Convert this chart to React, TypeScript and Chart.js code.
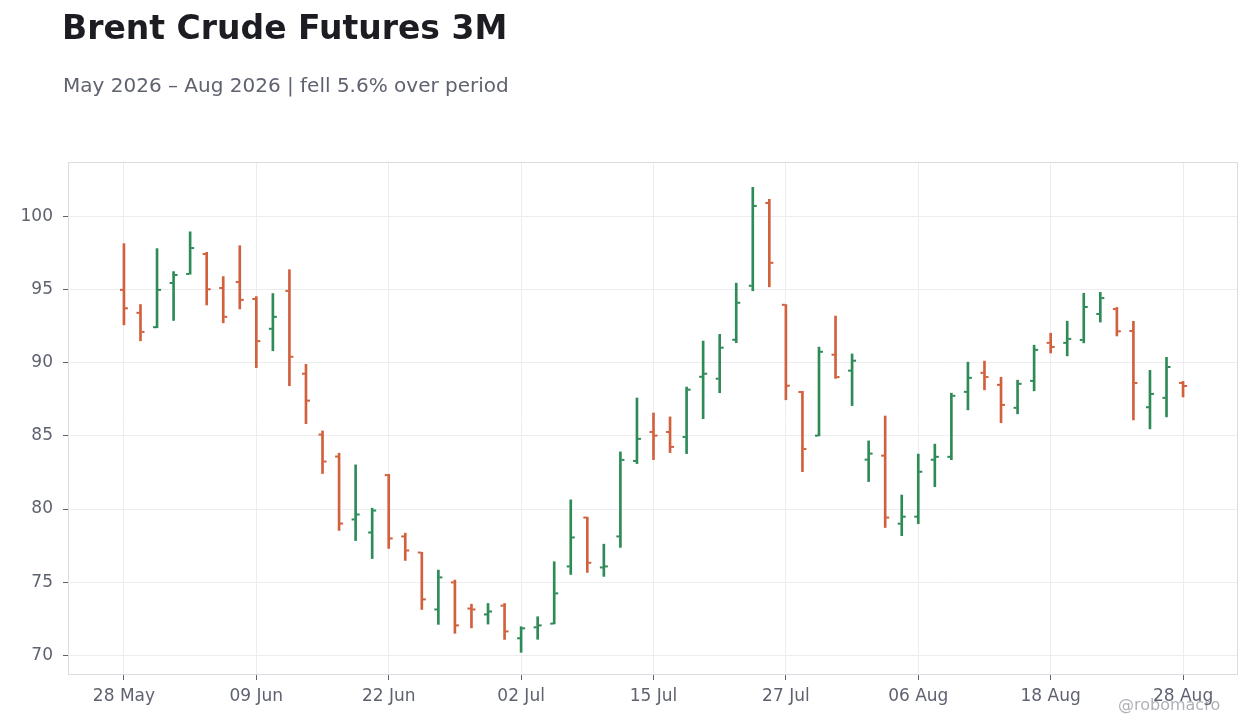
import { useEffect, useRef } from "react";
import { Chart, registerables } from "chart.js";

Chart.register(...registerables);

// trading days (US calendar, Juneteenth and 3 Jul closed)
const dates = [
  "2026-05-28", "2026-05-29",
  "2026-06-01", "2026-06-02", "2026-06-03", "2026-06-04", "2026-06-05",
  "2026-06-08", "2026-06-09", "2026-06-10", "2026-06-11", "2026-06-12",
  "2026-06-15", "2026-06-16", "2026-06-17", "2026-06-18",
  "2026-06-22", "2026-06-23", "2026-06-24", "2026-06-25", "2026-06-26",
  "2026-06-29", "2026-06-30", "2026-07-01", "2026-07-02",
  "2026-07-06", "2026-07-07", "2026-07-08", "2026-07-09", "2026-07-10",
  "2026-07-13", "2026-07-14", "2026-07-15", "2026-07-16", "2026-07-17",
  "2026-07-20", "2026-07-21", "2026-07-22", "2026-07-23", "2026-07-24",
  "2026-07-27", "2026-07-28", "2026-07-29", "2026-07-30", "2026-07-31",
  "2026-08-03", "2026-08-04", "2026-08-05", "2026-08-06", "2026-08-07",
  "2026-08-10", "2026-08-11", "2026-08-12", "2026-08-13", "2026-08-14",
  "2026-08-17", "2026-08-18", "2026-08-19", "2026-08-20", "2026-08-21",
  "2026-08-24", "2026-08-25", "2026-08-26", "2026-08-27", "2026-08-28",
];

const opens = [
  94.98, 93.41, 92.43, 95.45, 96.07, 97.43, 95.11, 95.52, 94.36, 92.32,
  94.91, 89.25, 85.09, 83.59, 79.29, 78.4, 82.32, 78.13, 77.03, 73.14,
  74.99, 73.2, 72.8, 73.4, 71.17, 71.92, 72.17, 76.08, 79.42, 76.01,
  78.13, 83.29, 85.27, 85.27, 84.93, 89.04, 88.91, 91.57, 95.26, 100.92,
  93.96, 88.0, 85.02, 90.55, 89.46, 83.38, 83.65, 79.0, 79.48, 83.37,
  83.57, 88.01, 89.31, 88.49, 86.92, 88.76, 91.36, 91.36, 91.56, 93.33,
  93.67, 92.17, 86.96, 87.6, 88.62,
];
const highs = [
  98.14, 93.98, 97.8, 96.23, 98.95, 97.55, 95.89, 98.0, 94.52, 94.73,
  96.36, 89.89, 85.34, 83.82, 83.02, 80.06, 82.38, 78.36, 77.05, 75.83,
  75.15, 73.5, 73.55, 73.55, 71.96, 72.64, 76.4, 80.63, 79.45, 77.6,
  83.91, 87.59, 86.57, 86.3, 88.34, 91.48, 91.94, 95.44, 101.99, 101.17,
  93.98, 88.05, 91.07, 93.19, 90.6, 84.66, 86.36, 80.96, 83.76, 84.44,
  87.92, 90.04, 90.11, 89.01, 88.81, 91.2, 92.02, 92.84, 94.75, 94.81,
  93.78, 92.83, 89.48, 90.37, 88.73,
];
const lows = [
  92.59, 91.5, 92.39, 92.89, 96.05, 93.95, 92.73, 93.68, 89.66, 90.82,
  88.43, 85.84, 82.43, 78.54, 77.85, 76.62, 77.31, 76.49, 73.14, 72.12,
  71.51, 71.88, 72.14, 71.09, 70.21, 71.1, 72.15, 75.53, 75.67, 75.4,
  77.38, 83.11, 83.38, 83.86, 83.79, 86.18, 87.95, 91.37, 94.92, 95.19,
  87.47, 82.56, 85.0, 88.93, 87.07, 81.88, 78.74, 78.18, 79.0, 81.53,
  83.37, 86.78, 88.15, 85.9, 86.51, 88.08, 90.67, 90.47, 91.36, 92.78,
  91.83, 86.09, 85.48, 86.3, 87.66,
];
const closes = [
  93.72, 92.11, 94.98, 96.0, 97.84, 95.02, 93.14, 94.3, 91.48, 93.14,
  90.41, 87.41, 83.25, 79.01, 79.63, 79.9, 77.99, 77.17, 73.83, 75.33,
  72.05, 73.14, 73.0, 71.64, 71.85, 72.05, 74.24, 78.06, 76.33, 76.08,
  83.36, 84.8, 85.02, 84.25, 88.16, 89.25, 91.03, 94.1, 100.72, 96.83,
  88.43, 84.11, 90.75, 89.02, 90.14, 83.79, 79.42, 79.48, 82.55, 83.57,
  87.74, 88.97, 89.03, 87.12, 88.56, 90.88, 91.08, 91.63, 93.81, 94.42,
  92.15, 88.62, 87.87, 89.71, 88.41,
];

const xTickIndex = [0, 8, 16, 24, 32, 40, 48, 56, 64];
const yTicks = [70, 75, 80, 85, 90, 95, 100];

const UP = "#2e8b57";
const DOWN = "#d1603d";
const MONTHS = ["Jan", "Feb", "Mar", "Apr", "May", "Jun", "Jul", "Aug", "Sep", "Oct", "Nov", "Dec"];

const fmtDate = (iso: string) => {
  const [, m, d] = iso.split("-");
  return `${d} ${MONTHS[Number(m) - 1]}`;
};

const colorAt = (i: number) => (closes[i] >= opens[i] ? UP : DOWN);

// open / close ticks and the frame round the plot
const ohlcTicks = {
  id: "ohlcTicks",
  beforeDatasetsDraw(chart: any) {
    const { ctx, chartArea } = chart;
    ctx.save();
    ctx.strokeStyle = "#dcdce2";
    ctx.lineWidth = 1;
    ctx.strokeRect(chartArea.left + 0.5, chartArea.top + 0.5, chartArea.width - 1, chartArea.height - 1);
    ctx.restore();
  },
  afterDatasetsDraw(chart: any) {
    const { ctx, scales } = chart;
    const x = scales.x;
    const y = scales.y;
    ctx.save();
    opens.forEach((o, i) => {
      const px = x.getPixelForValue(i);
      ctx.fillStyle = colorAt(i);
      const yo = y.getPixelForValue(o);
      const yc = y.getPixelForValue(closes[i]);
      ctx.fillRect(px - 4, yo - 1, 3, 2);
      ctx.fillRect(px + 1, yc - 1, 3, 2);
    });
    ctx.restore();
  },
};

const OhlcChart = () => {
  const canvasRef = useRef<HTMLCanvasElement | null>(null);
  const chartRef = useRef<Chart | null>(null);

  useEffect(() => {
    if (!canvasRef.current) return;
    if (chartRef.current) chartRef.current.destroy();

    Chart.defaults.font.family = "'DejaVu Sans', sans-serif";

    chartRef.current = new Chart(canvasRef.current, {
      type: "bar",
      data: {
        datasets: [
          {
            label: "High-Low",
            data: dates.map((_, i) => ({ x: i, y: [lows[i], highs[i]] })) as any,
            backgroundColor: dates.map((_, i) => colorAt(i)),
            borderWidth: 0,
            barThickness: 2,
            grouped: false,
          },
        ],
      },
      options: {
        responsive: false,
        animation: false,
        layout: { padding: { top: 162, right: 22, left: 0, bottom: 0 } },
        plugins: {
          legend: { display: false },
          tooltip: { enabled: false },
        },
        scales: {
          x: {
            type: "linear",
            offset: false,
            min: -3.38,
            max: 67.32,
            afterBuildTicks: (s: any) => {
              s.ticks = xTickIndex.map((v) => ({ value: v }));
            },
            afterFit: (s: any) => {
              s.height = 53;
            },
            ticks: {
              color: "#5f6370",
              font: { size: 17 },
              padding: 6,
              maxRotation: 0,
              autoSkip: false,
              callback: (v: any) => fmtDate(dates[Number(v)] ?? ""),
            },
            grid: { offset: false, color: "#ededf0", tickColor: "#5f6370", tickLength: 5 },
            border: { display: false },
          },
          y: {
            min: 68.66,
            max: 103.72,
            afterBuildTicks: (s: any) => {
              s.ticks = yTicks.map((v) => ({ value: v }));
            },
            afterFit: (s: any) => {
              s.width = 68;
            },
            ticks: {
              color: "#5f6370",
              font: { size: 17 },
              padding: 10,
            },
            grid: { color: "#ededf0", tickColor: "#5f6370", tickLength: 5 },
            border: { display: false },
          },
        },
      },
      plugins: [ohlcTicks],
    });

    return () => {
      if (chartRef.current) {
        chartRef.current.destroy();
        chartRef.current = null;
      }
    };
  }, []);

  return <canvas ref={canvasRef} width={1260} height={728} style={{ display: "block" }} />;
};

const App = () => {
  return (
    <div
      style={{
        position: "absolute",
        left: 0,
        top: 0,
        width: 1260,
        height: 728,
        background: "#fff",
        fontFamily: "'DejaVu Sans', sans-serif",
        overflow: "hidden",
      }}
    >
      <OhlcChart />
      {/* header */}
      <div style={{ position: "absolute", left: 62, top: 11, fontSize: 33, lineHeight: "33px", fontWeight: "bold", color: "#1c1c22", whiteSpace: "nowrap" }}>
        Brent Crude Futures 3M
      </div>
      <div style={{ position: "absolute", left: 63, top: 75, fontSize: 20, lineHeight: "20px", color: "#5f6370", whiteSpace: "nowrap" }}>
        May 2026 – Aug 2026 | fell 5.6% over period
      </div>
      {/* watermark */}
      <div style={{ position: "absolute", left: 1118, top: 697, fontSize: 16, lineHeight: "16px", color: "rgba(110,110,122,0.55)", whiteSpace: "nowrap" }}>
        @robomacro
      </div>
    </div>
  );
};

export default App;
